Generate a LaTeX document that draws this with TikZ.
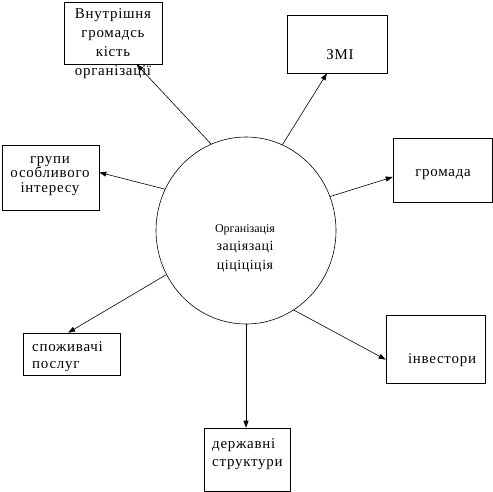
\documentclass[tikz,border=0pt]{standalone}
\usepackage{fontspec}
\setmainfont{Liberation Serif}
\newfontfamily\rozr[LetterSpace=5]{Liberation Serif}
\newfontfamily\rozrm[LetterSpace=4]{Liberation Serif}
\usetikzlibrary{arrows.meta,shapes.geometric}
\tikzset{
  orgbox/.style={draw, rectangle, inner sep=0pt, line width=0.6pt},
  orgoval/.style={draw, ellipse, inner sep=0pt, line width=0.6pt, minimum width=180bp, minimum height=187bp},
  orgtext/.style={inner sep=0pt, align=center, font=\rozr\fontsize{15}{19}\selectfont},
  orgarrow/.style={-{Triangle[length=7bp,width=5bp]}, line width=0.6pt},
}

\begin{document}
\begin{tikzpicture}[x=1bp, y=-1bp]
  \useasboundingbox (0,0) rectangle (493,492);

  % central organisation
  \node[orgoval] (org) at (246,230.5) {};
  \node[inner sep=0pt, align=center, font=\fontsize{12}{18.5}\selectfont] (orgt) at (245,248)
    {Організація\\{\rozrm\fontsize{14}{18.5}\selectfont заціязаці}\\{\rozrm\fontsize{14}{18.5}\selectfont ціціціція}};

  % boxes
  \node[orgbox, minimum width=98bp, minimum height=62bp] (vnutr) at (113,33) {};
  \node[orgtext] (vnutrt) at (113,44) {Внутрішня\\громадсь\\кість\\організації};

  \node[orgbox, minimum width=100bp, minimum height=58bp] (zmi) at (337,44) {};
  \node[orgtext] (zmit) at (340,55) {ЗМІ};

  \node[orgbox, minimum width=99bp, minimum height=64bp] (gromada) at (442.5,170) {};
  \node[orgtext] (gromadat) at (443,175) {громада};

  \node[orgbox, minimum width=97bp, minimum height=65bp] (grupy) at (50.5,177.5) {};
  \node[orgtext, font=\rozr\fontsize{15}{14.5}\selectfont] (grupyt) at (50,176) {групи\\особливого\\інтересу};

  \node[orgbox, minimum width=97bp, minimum height=42bp] (spozh) at (71.5,354) {};
  \node[orgtext, align=left, anchor=west, font=\rozr\fontsize{15}{17}\selectfont] (spozht) at (32,357) {споживачі\\послуг};

  \node[orgbox, minimum width=99bp, minimum height=68bp] (invest) at (435.5,349) {};
  \node[orgtext] (investt) at (442,360) {інвестори};

  \node[orgbox, minimum width=86bp, minimum height=63bp] (derzh) at (247,459.5) {};
  \node[orgtext, align=left, anchor=west, font=\rozr\fontsize{15}{18}\selectfont] (derzht) at (212,454) {державні\\структури};

  % arrows
  \draw[orgarrow] (org.112) -- (vnutr.-53);
  \draw[orgarrow] (org.67) -- (zmi.-109);
  \draw[orgarrow] (org.22) -- (gromada.188);
  \draw[orgarrow] (org.153) -- (grupy.6.5);
  \draw[orgarrow] (org.209) -- (spozh.99.5);
  \draw[orgarrow] (org.-59) -- (invest.192.5);
  \draw[orgarrow] (org.south) -- (org.south |- derzh.north);
\end{tikzpicture}
\end{document}
